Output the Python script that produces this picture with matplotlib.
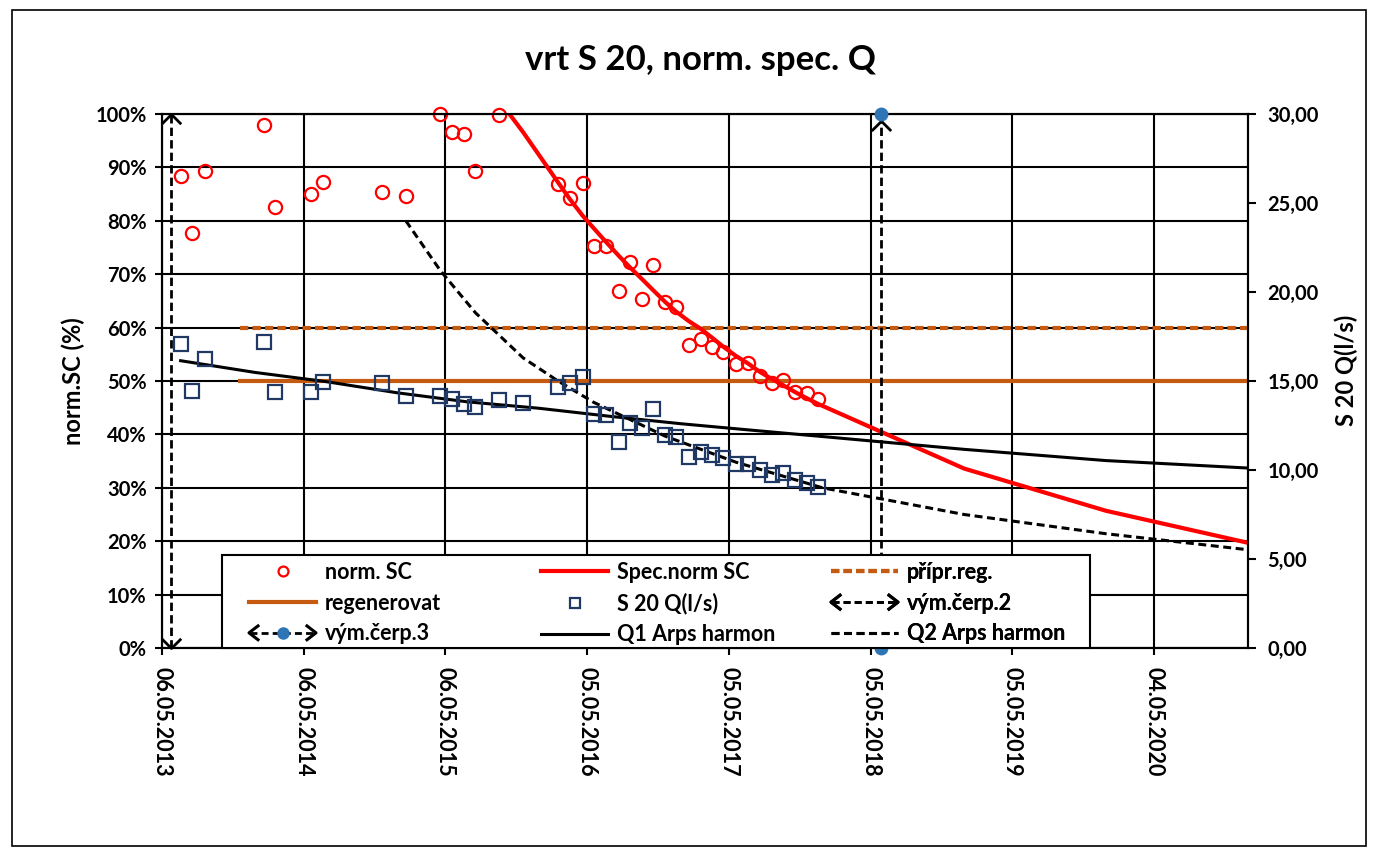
import matplotlib
matplotlib.use('Agg')
import matplotlib.pyplot as plt
import matplotlib.dates as mdates
import numpy as np
import pandas as pd
from matplotlib.lines import Line2D
from matplotlib.path import Path
from matplotlib.legend_handler import HandlerBase
from matplotlib.patches import Rectangle

# ---------------- data ----------------
title = "vrt S 20, norm. spec. Q"
left_label = "norm.SC (%)"
right_label = "S 20 Q(l/s)"

meas_dates = ['2013-06-23', '2013-07-22', '2013-08-25', '2014-01-23', '2014-02-22', '2014-05-25',
              '2014-06-24', '2014-11-23', '2015-01-24', '2015-04-23', '2015-05-23', '2015-06-22',
              '2015-07-22', '2015-09-22', '2015-11-22', '2016-02-20', '2016-03-22', '2016-04-24',
              '2016-05-22', '2016-06-23', '2016-07-26', '2016-08-23', '2016-09-23', '2016-10-22',
              '2016-11-22', '2016-12-20', '2017-01-22', '2017-02-21', '2017-03-23', '2017-04-21',
              '2017-05-23', '2017-06-23', '2017-07-24', '2017-08-23', '2017-09-22', '2017-10-23',
              '2017-11-21', '2017-12-21']

norm_sc = [88.3, 77.7, 89.3, 97.9, 82.5, 85.1,
           87.3, 85.4, 84.6, 100.0, 96.6, 96.2,
           89.3, 99.9, np.nan, 86.8, 84.3, 87.1,
           75.2, 75.2, 66.9, 72.2, 65.3, 71.7,
           64.8, 63.8, 56.7, 57.9, 56.4, 55.5,
           53.1, 53.3, 50.9, 49.6, 50.2, 48.0,
           47.7, 46.7]

q_s20 = [17.07, 14.45, 16.26, 17.19, 14.38, 14.38,
         14.94, 14.90, 14.16, 14.16, 13.97, 13.71,
         13.56, 13.93, 13.78, 14.68, 14.87, 15.20,
         13.15, 13.11, 11.59, 12.62, 12.34, 13.41,
         11.97, 11.87, 10.71, 11.03, 10.84, 10.66,
         10.34, 10.34, 10.00, 9.72, 9.81, 9.44,
         9.25, 9.03]

spec_dates = ['2015-09-22', '2015-11-22', '2016-02-20', '2016-03-22', '2016-04-24', '2016-05-22',
              '2016-06-23', '2016-07-26', '2016-08-23', '2016-09-23', '2016-10-22', '2016-11-22',
              '2016-12-20', '2017-01-22', '2017-02-21', '2017-03-23', '2017-04-21', '2017-05-23',
              '2017-06-23', '2017-07-24', '2017-08-23', '2017-09-22', '2017-10-23', '2017-11-21',
              '2017-12-21', '2019-01-01', '2020-01-01', '2021-01-01']
spec_norm = [102.5, 96.6, 87.2, 84.0, 80.9, 78.6,
             76.0, 73.4, 71.3, 69.1, 67.0, 64.8,
             63.0, 61.2, 59.8, 58.1, 56.4, 54.7,
             53.3, 51.7, 50.4, 49.2, 47.9, 46.8,
             45.7, 33.6, 25.7, 19.7]

q1_dates = ['2013-06-23', '2014-01-01', '2014-07-01', '2015-01-01', '2015-07-01', '2016-01-01',
            '2016-07-01', '2017-01-01', '2017-07-01', '2018-01-01', '2019-01-01', '2020-01-01',
            '2021-01-01']
q1_arps = [16.14, 15.48, 14.97, 14.34, 13.83, 13.47, 13.02, 12.60, 12.24, 11.88, 11.16, 10.53, 10.11]

q2_dates = ['2015-01-24', '2015-04-23', '2015-07-22', '2015-11-22', '2016-02-20', '2016-05-22',
            '2016-11-22', '2017-05-23', '2018-01-01', '2019-01-01', '2020-01-01', '2021-01-01']
q2_arps = [24.0, 21.2, 18.84, 16.3, 15.0, 13.8, 11.9, 10.44, 9.0, 7.5, 6.42, 5.52]

level_dates = ['2013-11-22', '2021-01-01']
pripr_reg = [60, 60]
regenerovat = [50, 50]

vym2_dates = ['2013-05-28', '2013-05-28']
vym2_vals = [0, 100]
vym3_dates = ['2018-06-01', '2018-06-01']
vym3_vals = [0, 100]

x_start, x_end = '2013-05-06', '2021-01-01'
x_major_days = 365
left_ticks = [0, 10, 20, 30, 40, 50, 60, 70, 80, 90, 100]
right_ticks = [0, 5, 10, 15, 20, 25, 30]

labels = {
    'sc': 'norm. SC', 'spec': 'Spec.norm SC', 'pripr': 'přípr.reg.',
    'reg': 'regenerovat', 'q': 'S 20 Q(l/s)', 'v2': 'vým.čerp.2',
    'v3': 'vým.čerp.3', 'q1': 'Q1 Arps harmon', 'q2': 'Q2 Arps harmon',
}

# ---------------- style ----------------
plt.rcParams['font.family'] = ['Lato', 'DejaVu Sans']
plt.rcParams['font.weight'] = 'bold'
FS_Y = 14.5
FS_X = 15.5
FS_LAB = 17
FS_LEG = 15.5
RED = '#FF0000'
NAVY = '#203864'
ORANGE = '#C55A11'
DOTBLUE = '#2E75B6'


def D(lst):
    return mdates.date2num(pd.to_datetime(lst).to_pydatetime())


def chevron(up=True, offset=0.0):
    s = 1 if up else -1
    verts = [(-1, s * (-1 - offset)), (0, s * (-offset)), (1, s * (-1 - offset))]
    return Path(verts, [Path.MOVETO, Path.LINETO, Path.LINETO])


W, H = 1375, 856
fig = plt.figure(figsize=(W / 100, H / 100), dpi=100)
L, R, T, B = 162, 1248, 114, 648
ax = fig.add_axes([L / W, 1 - B / H, (R - L) / W, (B - T) / H])
ax2 = ax.twinx()

# axes setup
x0, x1 = D([x_start])[0], D([x_end])[0]
ax.set_xlim(x0, x1)
ax.set_ylim(0, 100)
ax2.set_ylim(0, 30)
xt = np.arange(x0, x1, x_major_days)
ax.set_xticks(xt)
ax.set_xticklabels([mdates.num2date(v).strftime('%d.%m.%Y') for v in xt],
                   rotation=270, fontsize=FS_X, fontweight='bold')
ax.set_yticks(left_ticks)
ax.set_yticklabels([f'{v}%' for v in left_ticks], fontsize=FS_Y, fontweight='bold')
ax2.set_yticks(right_ticks)
ax2.set_yticklabels([f'{v:.2f}'.replace('.', ',') for v in right_ticks], fontsize=FS_Y, fontweight='bold')
ax.grid(True, color='black', lw=1.5)
ax.set_axisbelow(True)
for a in (ax, ax2):
    for sp in a.spines.values():
        sp.set_color('black')
        sp.set_linewidth(1.5)
ax.tick_params(axis='x', length=5, width=1.5, pad=9)
ax.tick_params(axis='y', length=5, width=1.5, pad=6)
ax2.tick_params(axis='y', length=6, width=1.5, pad=8)

ax.set_ylabel(left_label, fontsize=FS_LAB, fontweight='bold')
ax.yaxis.set_label_coords((85 - L) / (R - L), 0.5)
ax2.set_ylabel(right_label, fontsize=FS_LAB, fontweight='bold', rotation=90)
ax2.yaxis.set_label_coords((1335 - L) / (R - L), (B - 370) / (B - T))

# reference levels
h_pripr, = ax.plot(D(level_dates), pripr_reg, color=ORANGE, lw=3, ls=(0, (2.0, 1.0)),
                   label=labels['pripr'], zorder=3)
h_reg, = ax.plot(D(level_dates), regenerovat, color=ORANGE, lw=3, label=labels['reg'], zorder=3)

# red series
h_spec, = ax.plot(D(spec_dates), spec_norm, color=RED, lw=3, label=labels['spec'], zorder=4)
h_sc, = ax.plot(D(meas_dates), norm_sc, ls='none', marker='o', ms=9.5, mfc='none', mec=RED,
                mew=1.6, label=labels['sc'], zorder=5, clip_on=False)

# arrows (vým.čerp.)
h_v2, = ax.plot(D(vym2_dates), vym2_vals, color='black', lw=2, ls=(0, (3.0, 1.5)),
                label=labels['v2'], zorder=4)
ax.plot(D(vym2_dates)[1:], vym2_vals[1:], ls='none', marker=chevron(True), ms=14, mew=2,
        mfc='none', mec='black', clip_on=False, zorder=6)
ax.plot(D(vym2_dates)[:1], vym2_vals[:1], ls='none', marker=chevron(False), ms=14, mew=2,
        mfc='none', mec='black', clip_on=False, zorder=6)

h_v3, = ax2.plot(D(vym3_dates), [v * 0.3 for v in vym3_vals], color='black', lw=2,
                 ls=(0, (3.0, 1.5)), label=labels['v3'], zorder=4)
ax2.plot(D(vym3_dates)[1:], [v * 0.3 for v in vym3_vals[1:]], ls='none', marker=chevron(True, 0.7),
         ms=14 * 1.7, mew=2, mfc='none', mec='black', clip_on=False, zorder=6)
ax2.plot(D(vym3_dates)[:1], [v * 0.3 for v in vym3_vals[:1]], ls='none', marker=chevron(False, 0.7),
         ms=14 * 1.7, mew=2, mfc='none', mec='black', clip_on=False, zorder=6)
ax2.plot(D(vym3_dates), [v * 0.3 for v in vym3_vals], ls='none', marker='o', ms=9,
         color=DOTBLUE, clip_on=False, zorder=7)

# discharge series (right axis)
h_q1, = ax2.plot(D(q1_dates), q1_arps, color='black', lw=2.2, label=labels['q1'], zorder=3)
h_q2, = ax2.plot(D(q2_dates), q2_arps, color='black', lw=2.2, ls=(0, (2.6, 1.5)),
                 label=labels['q2'], zorder=3)
h_q, = ax2.plot(D(meas_dates), q_s20, ls='none', marker='s', ms=10, mfc='none', mec=NAVY,
                mew=1.6, label=labels['q'], zorder=5)


# ---------------- legend ----------------
class HandlerArrow(HandlerBase):
    def __init__(self, dot=False, **kw):
        super().__init__(**kw)
        self.dot = dot

    def create_artists(self, legend, orig_handle, xdescent, ydescent, width, height, fontsize, trans):
        xa = -xdescent
        xb = xa + width
        y = -ydescent + height / 2
        a, b = 6.5, 5.0
        arts = [Line2D([xa + 1, xb - 1], [y, y], color='black', lw=2, ls=(0, (2.5, 1.5)), transform=trans),
                Line2D([xa + a, xa, xa + a], [y + b, y, y - b], color='black', lw=2.2, transform=trans),
                Line2D([xb - a, xb, xb - a], [y + b, y, y - b], color='black', lw=2.2, transform=trans)]
        if self.dot:
            arts.append(Line2D([(xa + xb) / 2], [y], ls='none', marker='o', ms=8, color=DOTBLUE,
                               transform=trans))
        return arts


hmap = {h_v2: HandlerArrow(False), h_v3: HandlerArrow(True)}
cols = [[h_sc, h_reg, h_v3], [h_spec, h_q, h_q1], [h_pripr, h_v2, h_q2]]
col_px = [249, 541, 831]
handle_pt = 67 * 0.72

leg_l, leg_r, leg_t = 222, 1090, 555
frame = Rectangle(((leg_l - L) / (R - L), 0), (leg_r - leg_l) / (R - L), (B - leg_t) / (B - T),
                  transform=ax2.transAxes, fc='white', ec='black', lw=1.5, zorder=20, clip_on=False)
ax2.add_patch(frame)
for hs, cx in zip(cols, col_px):
    leg = ax2.legend(hs, [h.get_label() for h in hs], loc='upper left',
                     bbox_to_anchor=((cx - L) / (R - L), (B - 562) / (B - T)),
                     frameon=False, borderpad=0, borderaxespad=0, handlelength=handle_pt / FS_LEG,
                     handletextpad=0.4, labelspacing=0.45, markerscale=0.75,
                     prop={'size': FS_LEG, 'weight': 'bold'}, handler_map=hmap)
    leg.set_zorder(21)
    ax2.add_artist(leg)

# title and outer frame
fig.text(700 / W, 1 - 60 / H, title, ha='center', va='center', fontsize=25, fontweight='bold')
fig.patches.append(Rectangle((12 / W, 1 - 846 / H), (1366 - 12) / W, (846 - 10) / H,
                             transform=fig.transFigure, fill=False, ec='black', lw=1.2))

fig.savefig('out.png', dpi=100)
